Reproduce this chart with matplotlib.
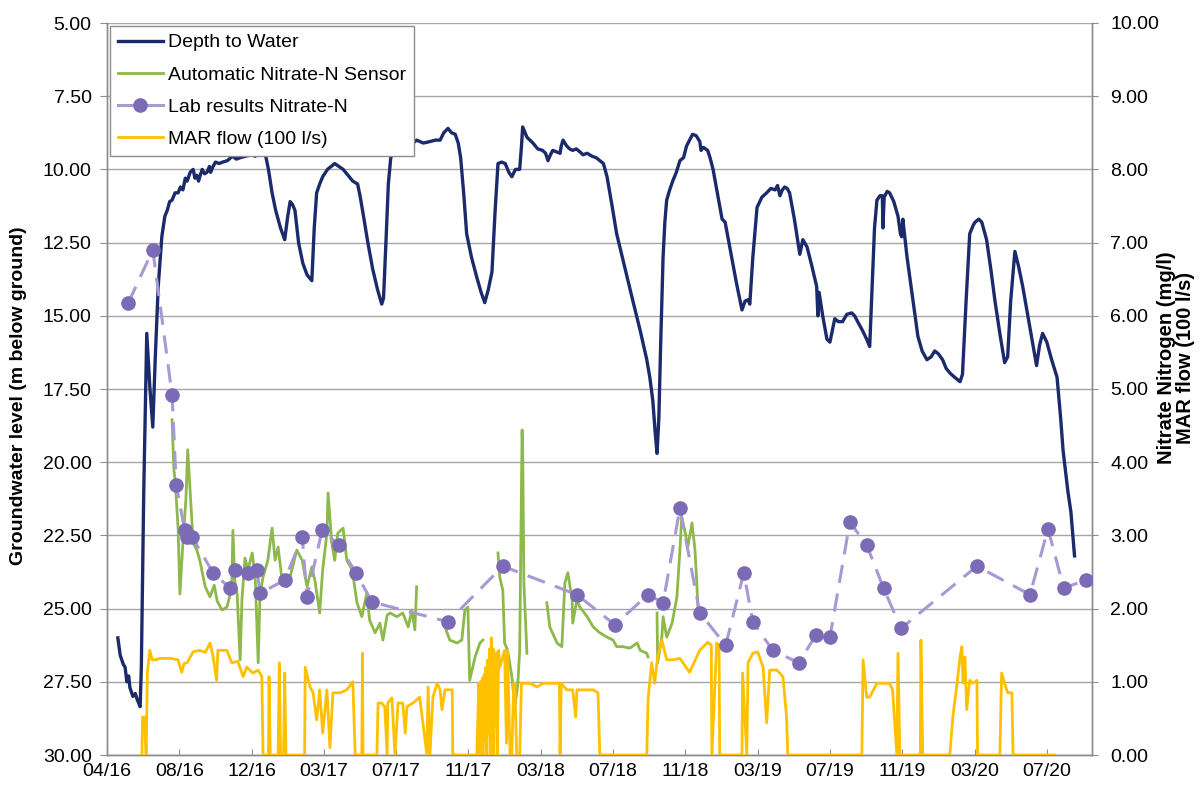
import numpy as np
import matplotlib
matplotlib.use("Agg")
import matplotlib.pyplot as plt
import matplotlib.dates as mdates
from matplotlib.lines import Line2D

plt.rcParams['font.family'] = ['Liberation Sans', 'DejaVu Sans']

# ---------------- data (x = days since 2016-04-05) ----------------
start_date = '2016-04-05'

depth_day = [18, 22, 27, 30, 33, 36, 38, 43, 47, 50, 55, 57, 61, 66, 71, 76, 80, 85, 91, 96,
             100, 104, 108, 113, 118, 122, 126, 130, 133, 138, 143, 146, 149, 152, 154, 158, 162, 166, 170, 172,
             176, 180, 186, 192, 200, 208, 215, 221, 230, 240, 246, 254, 260, 264, 268, 274, 280, 288, 295, 300,
             304, 308, 312, 318, 325, 332, 340, 344, 348, 353, 358, 366, 372, 378, 385, 392, 400, 408, 416, 420,
             425, 433, 441, 449, 456, 459, 463, 467, 471, 476, 490, 508, 514, 525, 536, 545, 553, 559, 566, 572,
             578, 583, 587, 592, 597, 605, 614, 621, 627, 633, 639, 644, 649, 655, 661, 667, 672, 678, 685, 688,
             690, 697, 702, 707, 715, 723, 728, 732, 736, 740, 746, 752, 754, 757, 763, 768, 773, 779, 785, 790,
             797, 805, 812, 818, 824, 830, 838, 846, 860, 873, 885, 896, 901, 906, 910, 913, 916, 919, 923, 926,
             929, 934, 939, 945, 951, 957, 962, 967, 972, 978, 984, 986, 990, 997, 1001, 1006, 1013, 1021, 1026, 1035,
             1045, 1054, 1059, 1064, 1067, 1072, 1079, 1087, 1095, 1102, 1109, 1113, 1117, 1121, 1125, 1129, 1133, 1141, 1150, 1155,
             1162, 1170, 1178, 1180, 1182, 1188, 1195, 1200, 1204, 1208, 1214, 1221, 1228, 1236, 1241, 1246, 1254, 1261, 1266, 1270,
             1274, 1278, 1283, 1287, 1288, 1290, 1295, 1299, 1306, 1313, 1317, 1319, 1321, 1328, 1338, 1346, 1353, 1361, 1368, 1374,
             1380, 1387, 1393, 1399, 1407, 1416, 1420, 1426, 1432, 1438, 1441, 1447, 1452, 1460, 1467, 1474, 1482, 1490, 1495, 1500,
             1507, 1513, 1520, 1532, 1543, 1548, 1553, 1560, 1568, 1577, 1583, 1587, 1595, 1600, 1606]
depth_m = [26.0, 26.6, 26.9, 27.0, 27.5, 27.3, 27.7, 28.0, 27.9, 28.1, 28.35, 27.0, 21.0, 15.6, 17.4, 18.8, 16.5, 14.0, 12.3, 11.6,
           11.4, 11.1, 11.05, 10.8, 10.8, 10.6, 10.7, 10.3, 10.4, 10.1, 10.0, 10.3, 10.2, 10.4, 10.25, 10.0, 10.15, 10.1, 9.9, 10.1,
           9.9, 9.75, 9.8, 9.75, 9.7, 9.55, 9.65, 9.6, 9.55, 9.5, 9.55, 9.45, 9.4, 9.6, 10.0, 10.8, 11.4, 12.0, 12.4, 11.6,
           11.1, 11.2, 11.4, 12.5, 13.2, 13.6, 13.8, 12.0, 10.8, 10.5, 10.25, 10.0, 9.9, 9.8, 9.9, 10.0, 10.2, 10.4, 10.5, 10.9,
           11.5, 12.5, 13.4, 14.1, 14.6, 14.4, 12.5, 10.5, 9.6, 9.4, 9.2, 9.1, 9.0, 9.1, 9.05, 9.0, 9.0, 8.75, 8.6, 8.75,
           8.8, 9.1, 9.6, 10.8, 12.2, 13.0, 13.7, 14.2, 14.55, 14.1, 13.5, 11.5, 9.8, 9.75, 9.8, 10.1, 10.25, 10.0, 10.0, 9.2,
           8.55, 8.9, 9.0, 9.1, 9.3, 9.35, 9.45, 9.7, 9.5, 9.35, 9.4, 9.45, 9.2, 9.0, 9.2, 9.3, 9.35, 9.3, 9.4, 9.5,
           9.45, 9.55, 9.6, 9.7, 9.8, 10.25, 11.2, 12.2, 13.4, 14.5, 15.5, 16.5, 17.1, 17.9, 19.0, 19.7, 18.5, 16.0, 13.0, 11.8,
           11.05, 10.7, 10.4, 10.1, 9.7, 9.6, 9.2, 9.0, 8.8, 8.85, 9.05, 9.35, 9.25, 9.35, 9.6, 10.0, 10.8, 11.7, 11.8, 12.8,
           13.9, 14.8, 14.5, 14.45, 14.6, 13.0, 11.3, 10.95, 10.8, 10.65, 10.7, 10.55, 10.9, 10.7, 10.6, 10.65, 10.8, 11.7, 12.9, 12.4,
           12.65, 13.3, 14.0, 15.0, 14.2, 15.0, 15.8, 15.9, 15.5, 15.1, 15.2, 15.2, 14.95, 14.9, 15.0, 15.2, 15.5, 15.8, 16.05, 14.0,
           12.0, 11.05, 10.9, 10.9, 12.0, 10.95, 10.75, 10.8, 11.1, 11.6, 12.2, 12.3, 11.7, 13.0, 14.5, 15.7, 16.2, 16.5, 16.4, 16.2,
           16.3, 16.5, 16.8, 16.95, 17.1, 17.25, 17.0, 14.5, 12.2, 11.9, 11.8, 11.7, 11.8, 12.4, 13.4, 14.5, 15.6, 16.6, 16.4, 14.5,
           12.8, 13.3, 14.0, 15.4, 16.7, 16.0, 15.6, 15.9, 16.5, 17.1, 18.5, 19.6, 21.0, 21.7, 23.2]

nan = float('nan')
sensor_day = [108, 111, 113, 118, 121, 126, 131, 134, 138, 143, 149, 154, 163, 171, 178, 183, 191, 199, 204, 207,
              209, 212, 216, 221, 224, 229, 234, 241, 246, 251, 254, 259, 267, 274, 279, 284, 290, 299, 307, 315,
              324, 332, 340, 345, 353, 358, 365, 367, 373, 378, 383, 392, 398, 407, 415, 423, 431, 436, 445, 453,
              458, 465, 470, 481, 491, 500, 506, 511, 514, 537,
              561, 569, 581, 589, 594, 599, 602, 611, 619, 624, 636,
              649, 652, 657, 660, 665, 672, 677, 682, 685, 689, 690, 692, 697, 713,
              730, 735, 747, 755, 760, 765, 772, 773, 780, 785, 797, 807, 818, 830, 840, 846, 856, 868, 880, 885,
              896, 898, 905,
              913, 914, 921, 923, 929, 938, 946, 951, 954, 959, 964, 971, 976, 979, 981]
sensor_no3 = [4.58, 3.9, 3.76, 3.1, 2.2, 2.9, 3.5, 4.17, 3.6, 2.9, 2.8, 2.66, 2.3, 2.16, 2.32, 2.1, 1.98, 2.02, 2.18, 2.3,
              3.07, 2.39, 2.2, 1.3, 2.12, 2.69, 2.53, 2.76, 2.43, 1.26, 2.2, 2.43, 2.66, 3.1, 2.66, 2.84, 2.43, 2.3, 2.53, 2.8,
              2.66, 2.3, 2.57, 2.39, 1.94, 2.53, 3.03, 3.58, 2.9, 2.66, 3.03, 3.1, 2.66, 2.53, 2.08, 1.89, 2.2, 1.84, 1.67, 1.8,
              1.57, 1.91, 1.94, 1.89, 1.94, 1.75, 1.98, 1.71, 2.3, nan,
              1.75, 1.57, 1.53, 1.57, 1.98, 2.02, 1.02, 1.34, 1.53, 1.57, nan,
              2.76, 2.43, 2.25, 1.53, 1.43, 1.07, 0.66, 0.98, 1.43, 4.44, 4.17, 2.35, 1.39, nan,
              2.08, 1.75, 1.53, 1.48, 2.35, 2.49, 2.12, 1.8, 2.12, 2.02, 1.89, 1.75, 1.67, 1.61, 1.57, 1.48, 1.48, 1.46, 1.53, 1.43,
              1.39, 1.34, nan,
              1.94, 1.26, 1.61, 1.89, 1.61, 1.8, 2.16, 2.8, 3.25, 3.07, 2.84, 3.17, 2.8, 2.35, 1.98]

lab_day = [35, 76, 108, 115, 129, 133, 141, 176, 204, 212, 234, 249, 254, 295, 324, 332, 357, 385, 413, 440,
           566, 657, 780, 843, 898, 923, 951, 984, 1027, 1057, 1072, 1105, 1148, 1177, 1200, 1233, 1261, 1289, 1318, 1444,
           1532, 1562, 1588, 1625]
lab_no3 = [6.17, 6.9, 4.92, 3.69, 3.07, 2.98, 2.98, 2.49, 2.28, 2.53, 2.49, 2.53, 2.21, 2.39, 2.98, 2.16, 3.07, 2.87, 2.49, 2.09,
           1.82, 2.58, 2.19, 1.78, 2.19, 2.08, 3.37, 1.94, 1.5, 2.49, 1.82, 1.43, 1.26, 1.64, 1.61, 3.18, 2.87, 2.28, 1.73, 2.58,
           2.19, 3.09, 2.28, 2.39]

mar_day = [58, 59, 62, 65, 67, 71, 75, 80, 88, 105, 118, 124, 128, 133, 143, 154, 163, 171, 176, 182,
           184, 199, 207, 217, 226, 232, 242, 251, 257, 259, 268, 269, 271, 284, 286, 288, 293, 295, 297, 328,
           329, 337, 342, 348, 353, 358, 365, 370, 375, 387, 398, 408, 412, 423, 424, 425, 448, 450, 456, 461,
           465, 466, 473, 478, 483, 491, 495, 498, 508, 519, 531, 533, 536, 541, 548, 553, 556, 561, 573, 574,
           614, 617, 618, 620, 621, 623, 624, 626, 627, 629, 630, 632, 633, 635, 636, 638, 639, 641, 642, 644,
           645, 647, 648, 650, 652, 660, 663, 665, 669, 672, 675, 677, 680, 685, 688, 702, 714, 724, 735, 747,
           751, 752, 754, 763, 773, 778, 780, 797, 807, 815, 818, 896, 898, 904, 909, 914, 921, 929, 939, 951,
           967, 984, 997, 1003, 1004, 1012, 1016, 1017, 1054, 1055, 1062, 1064, 1072, 1080, 1089, 1095, 1100, 1112, 1122, 1128,
           1130, 1253, 1255, 1261, 1266, 1278, 1299, 1304, 1311, 1313, 1316, 1350, 1351, 1354, 1399, 1404, 1411, 1416, 1419, 1421,
           1424, 1427, 1432, 1437, 1444, 1445, 1482, 1485, 1490, 1495, 1502, 1504, 1573]
mar_flow = [0, 0.52, 0.52, 0, 1.12, 1.43, 1.3, 1.3, 1.32, 1.32, 1.3, 1.13, 1.25, 1.26, 1.41, 1.43, 1.4, 1.53, 1.35, 1.02,
            1.43, 1.43, 1.26, 1.28, 1.07, 1.2, 1.12, 1.16, 1.07, 0, 0, 1.07, 0, 0, 1.26, 0, 0, 1.12, 0, 0,
            1.2, 0.93, 0.85, 0.48, 0.89, 0.3, 0.89, 0.1, 0.85, 0.85, 0.89, 1.0, 0, 0, 1.39, 0, 0, 0.71, 0.71, 0.66,
            0, 0.71, 0.78, 0, 0.71, 0.71, 0.3, 0.66, 0.71, 0.79, 0, 0.93, 0, 0.79, 0.98, 0.89, 0.62, 0.89, 0.89, 0,
            0, 0.98, 0, 1.0, 0.1, 1.05, 0, 1.1, 0.2, 1.2, 0, 1.3, 0.3, 1.45, 0, 1.6, 0.2, 1.45, 0, 1.3,
            0.4, 1.4, 0, 1.43, 1.2, 1.43, 0.16, 1.43, 0, 0, 0.98, 0.98, 0, 0, 0.98, 0.98, 0.93, 0.98, 0.98, 0.98,
            0.98, 0, 0.98, 0.89, 0.89, 0.52, 0.89, 0.89, 0.89, 0.85, 0, 0, 0.75, 1.26, 0.98, 1.34, 1.57, 1.3, 1.3, 1.32,
            1.13, 1.43, 1.54, 1.5, 0, 1.53, 1.5, 0, 0, 1.12, 0, 1.26, 1.39, 1.41, 1.2, 0.44, 1.16, 1.16, 1.07, 0.52,
            0, 0, 1.3, 0.79, 0.79, 0.98, 0.98, 0.89, 0, 1.39, 0, 0, 1.57, 0, 0, 0.52, 0.98, 1.34, 1.48, 0.98,
            1.34, 0.62, 1.02, 0.98, 1.02, 0, 0, 1.12, 0.98, 0.85, 0.85, 0, 0]

left_ticks = [5.0, 7.5, 10.0, 12.5, 15.0, 17.5, 20.0, 22.5, 25.0, 27.5, 30.0]
right_ticks = [0, 1, 2, 3, 4, 5, 6, 7, 8, 9, 10]
n_xticks = 14
tick_step_days = 120
x_span_days = 1635

labels = ['Depth to Water', 'Automatic Nitrate-N Sensor', 'Lab results Nitrate-N', 'MAR flow (100 l/s)']
ylabel_left = 'Groundwater level (m below ground)'
ylabel_right = 'Nitrate Nitrogen (mg/l)\nMAR flow (100 l/s)'

# ---------------- colours ----------------
c_depth = '#1b2a6b'
c_sensor = '#8db84a'
c_lab_line = '#a898d4'
c_lab_marker = '#7b6ab5'
c_mar = '#ffc000'
c_grid = '#a6a6a6'

t0 = np.datetime64(start_date)
def to_dates(days):
    return t0 + np.array(days, dtype='timedelta64[D]')

W, H = 1201, 787
fig = plt.figure(figsize=(W / 100, H / 100), dpi=100)
L, R, T, B = 107, 1092, 23, 755
ax = fig.add_axes([L / W, 1 - B / H, (R - L) / W, (B - T) / H])
ax2 = ax.twinx()

ax.plot(to_dates(depth_day), depth_m, color=c_depth, lw=2.4, zorder=3)
ax.set_ylim(30, 5)
ax.set_yticks(left_ticks)
ax.yaxis.set_major_formatter(matplotlib.ticker.FormatStrFormatter('%.2f'))
ax.grid(axis='y', color=c_grid, lw=1.0)
ax.set_axisbelow(True)

ax2.plot(to_dates(sensor_day), sensor_no3, color=c_sensor, lw=2.0, zorder=3)
ax2.plot(to_dates(lab_day), lab_no3, color=c_lab_line, lw=2.2, ls=(0, (6, 3.5)),
         marker='o', ms=9.5, mfc=c_lab_marker, mec=c_lab_marker, zorder=4)
ax2.plot(to_dates(mar_day), mar_flow, color=c_mar, lw=2.0, zorder=3)
ax2.set_ylim(0, 10)
ax2.set_yticks(right_ticks)
ax2.yaxis.set_major_formatter(matplotlib.ticker.FormatStrFormatter('%.2f'))

xt = to_dates([tick_step_days * k for k in range(n_xticks)])
ax.set_xlim(t0, t0 + np.timedelta64(x_span_days, 'D'))
ax.set_xticks(xt)
ax.xaxis.set_major_formatter(mdates.DateFormatter('%m/%y'))

for a in (ax, ax2):
    for s in a.spines.values():
        s.set_color('#8c8c8c')
        s.set_linewidth(1.0)
    a.spines['top'].set_visible(False)

ax.tick_params(axis='x', direction='in', length=4, color='#8c8c8c', labelsize=14, pad=6)
ax.tick_params(axis='y', direction='out', length=5, color='#8c8c8c', labelsize=14, pad=6)
ax2.tick_params(axis='y', direction='out', length=4, color='#8c8c8c', labelsize=14, pad=9)

fig.text(19 / W, 1 - 396 / H, ylabel_left, rotation=90, ha='center', va='center',
         fontsize=14, fontweight='bold')
fig.text(1176 / W, 1 - 358 / H, ylabel_right, rotation=90, ha='center', va='center',
         fontsize=14.5, fontweight='bold', multialignment='center', linespacing=1.05)

handles = [Line2D([], [], color=c_depth, lw=2.4),
           Line2D([], [], color=c_sensor, lw=2.0),
           Line2D([], [], color=c_lab_line, lw=2.2, marker='o', ms=9.5, mfc=c_lab_marker, mec=c_lab_marker),
           Line2D([], [], color=c_mar, lw=2.0)]
leg = ax2.legend(handles, labels, loc='upper left', bbox_to_anchor=(110 / W, 1 - 26 / H),
                 bbox_transform=fig.transFigure, borderaxespad=0, fontsize=14,
                 handlelength=2.3, handletextpad=0.3, labelspacing=0.75, borderpad=0.4,
                 fancybox=False, framealpha=1, edgecolor='#8c8c8c')
leg.get_frame().set_linewidth(1.0)
leg.set_zorder(10)

fig.savefig('out.png', dpi=100)
